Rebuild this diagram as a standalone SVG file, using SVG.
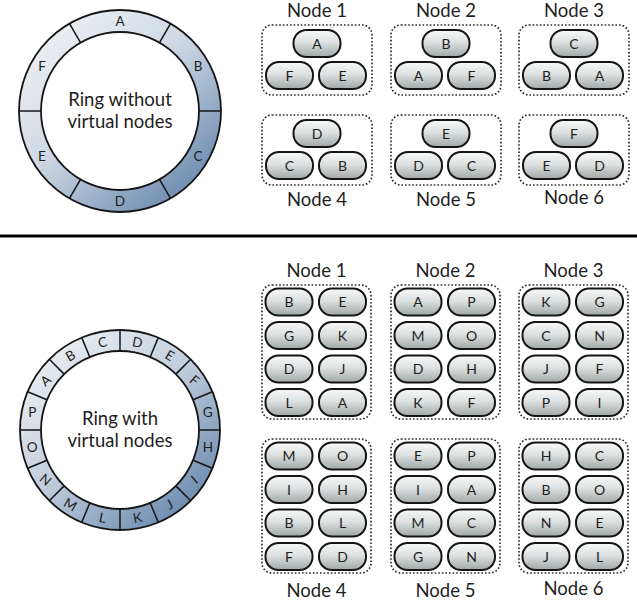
<svg xmlns="http://www.w3.org/2000/svg" width="637" height="600" viewBox="0 0 637 600">
<style>
text{font-family:Lato,"Open Sans","Liberation Sans",sans-serif;fill:#1e1e1e;text-anchor:middle}
.title{font-size:18.5px}
.pl{font-size:14px}
.seg{font-size:13.5px}
.center{font-size:18.5px}
.pill{fill:url(#pillg);stroke:#151515;stroke-width:2}
.box{fill:none;stroke:#2a2a2a;stroke-width:1.7;stroke-dasharray:1.6 2}
.div{stroke:#151515;stroke-width:1.5}
.ringo{stroke:#151515;stroke-width:1.8}
.ringi{fill:#fff;stroke:#151515;stroke-width:1.8}
</style>
<defs>
<linearGradient id="pillg" x1="0" y1="0" x2="0" y2="1">
<stop offset="0" stop-color="#f8f9f9"/>
<stop offset="0.45" stop-color="#dde1e1"/>
<stop offset="1" stop-color="#a0a8a7"/>
</linearGradient>
<linearGradient id="ring1g" gradientUnits="userSpaceOnUse" x1="40" y1="20" x2="200" y2="205">
<stop offset="0" stop-color="#f1f3f6"/>
<stop offset="0.45" stop-color="#cdd7e3"/>
<stop offset="1" stop-color="#5f81a9"/>
</linearGradient>
<linearGradient id="ring2g" gradientUnits="userSpaceOnUse" x1="40" y1="340" x2="200" y2="525">
<stop offset="0" stop-color="#eef1f5"/>
<stop offset="0.45" stop-color="#c3cfdd"/>
<stop offset="1" stop-color="#5f81a9"/>
</linearGradient>
</defs>

<g id="ring-top">
<circle class="ringo" cx="120" cy="111" r="101" fill="url(#ring1g)"/>
<circle class="ringi" cx="120" cy="111" r="79"/>
<line class="div" x1="80.5" y1="42.58" x2="69.5" y2="23.53"/>
<line class="div" x1="159.5" y1="42.58" x2="170.5" y2="23.53"/>
<line class="div" x1="199" y1="111" x2="221" y2="111"/>
<line class="div" x1="159.5" y1="179.42" x2="170.5" y2="198.47"/>
<line class="div" x1="80.5" y1="179.42" x2="69.5" y2="198.47"/>
<line class="div" x1="41" y1="111" x2="19" y2="111"/>
<text class="seg" x="120" y="25.8">A</text>
<text class="seg" x="198" y="70.8">B</text>
<text class="seg" x="198" y="160.8">C</text>
<text class="seg" x="120" y="205.8">D</text>
<text class="seg" x="42" y="160.8">E</text>
<text class="seg" x="42" y="70.8">F</text>
<text class="center" x="120" y="106">Ring without</text>
<text class="center" x="120" y="128">virtual nodes</text>
</g>

<line id="separator" x1="0" y1="236" x2="637" y2="236" stroke="#000" stroke-width="3"/>

<g id="ring-bottom">
<circle class="ringo" cx="120" cy="430" r="100" fill="url(#ring2g)"/>
<circle class="ringi" cx="120" cy="430" r="79"/>
<line class="div" x1="199" y1="430" x2="220" y2="430"/>
<line class="div" x1="192.99" y1="460.23" x2="212.39" y2="468.27"/>
<line class="div" x1="175.86" y1="485.86" x2="190.71" y2="500.71"/>
<line class="div" x1="150.23" y1="502.99" x2="158.27" y2="522.39"/>
<line class="div" x1="120" y1="509" x2="120" y2="530"/>
<line class="div" x1="89.77" y1="502.99" x2="81.73" y2="522.39"/>
<line class="div" x1="64.14" y1="485.86" x2="49.29" y2="500.71"/>
<line class="div" x1="47.01" y1="460.23" x2="27.61" y2="468.27"/>
<line class="div" x1="41" y1="430" x2="20" y2="430"/>
<line class="div" x1="47.01" y1="399.77" x2="27.61" y2="391.73"/>
<line class="div" x1="64.14" y1="374.14" x2="49.29" y2="359.29"/>
<line class="div" x1="89.77" y1="357.01" x2="81.73" y2="337.61"/>
<line class="div" x1="120" y1="351" x2="120" y2="330"/>
<line class="div" x1="150.23" y1="357.01" x2="158.27" y2="337.61"/>
<line class="div" x1="175.86" y1="374.14" x2="190.71" y2="359.29"/>
<line class="div" x1="192.99" y1="399.77" x2="212.39" y2="391.73"/>
<text class="seg" x="137.5" y="347" transform="rotate(11 137.5 342.2)">D</text>
<text class="seg" x="169.7" y="360.4" transform="rotate(30 169.7 355.6)">E</text>
<text class="seg" x="194.4" y="385.1" transform="rotate(40 194.4 380.3)">F</text>
<text class="seg" x="207.8" y="417.3">G</text>
<text class="seg" x="207.8" y="452.3">H</text>
<text class="seg" x="194.4" y="484.5" transform="rotate(-40 194.4 479.7)">I</text>
<text class="seg" x="169.7" y="509.2" transform="rotate(-30 169.7 504.4)">J</text>
<text class="seg" x="137.5" y="522.6" transform="rotate(-11 137.5 517.8)">K</text>
<text class="seg" x="102.5" y="522.6" transform="rotate(11 102.5 517.8)">L</text>
<text class="seg" x="70.3" y="509.2" transform="rotate(30 70.3 504.4)">M</text>
<text class="seg" x="45.6" y="484.5" transform="rotate(40 45.6 479.7)">N</text>
<text class="seg" x="32.2" y="452.3">O</text>
<text class="seg" x="32.2" y="417.3">P</text>
<text class="seg" x="45.6" y="385.1" transform="rotate(-40 45.6 380.3)">A</text>
<text class="seg" x="70.3" y="360.4" transform="rotate(-30 70.3 355.6)">B</text>
<text class="seg" x="102.5" y="347" transform="rotate(-11 102.5 342.2)">C</text>
<text class="center" x="120" y="425">Ring with</text>
<text class="center" x="120" y="447">virtual nodes</text>
</g>

<!-- Top: without virtual nodes -->
<g id="top-node1">
<text class="title" x="317" y="17">Node 1</text>
<rect class="box" x="262" y="25" width="110" height="70" rx="10"/>
<rect class="pill" x="293.5" y="30" width="47" height="27" rx="13"/><text class="pl" x="317" y="48.5">A</text>
<rect class="pill" x="266" y="62" width="47" height="27" rx="13"/><text class="pl" x="289.5" y="80.5">F</text>
<rect class="pill" x="319" y="62" width="47" height="27" rx="13"/><text class="pl" x="342.5" y="80.5">E</text>
</g>
<g id="top-node2">
<text class="title" x="446" y="17">Node 2</text>
<rect class="box" x="391" y="25" width="110" height="70" rx="10"/>
<rect class="pill" x="422.5" y="30" width="47" height="27" rx="13"/><text class="pl" x="446" y="48.5">B</text>
<rect class="pill" x="395" y="62" width="47" height="27" rx="13"/><text class="pl" x="418.5" y="80.5">A</text>
<rect class="pill" x="448" y="62" width="47" height="27" rx="13"/><text class="pl" x="471.5" y="80.5">F</text>
</g>
<g id="top-node3">
<text class="title" x="574" y="17">Node 3</text>
<rect class="box" x="519" y="25" width="110" height="70" rx="10"/>
<rect class="pill" x="550.5" y="30" width="47" height="27" rx="13"/><text class="pl" x="574" y="48.5">C</text>
<rect class="pill" x="523" y="62" width="47" height="27" rx="13"/><text class="pl" x="546.5" y="80.5">B</text>
<rect class="pill" x="576" y="62" width="47" height="27" rx="13"/><text class="pl" x="599.5" y="80.5">A</text>
</g>
<g id="top-node4">
<rect class="box" x="262" y="115" width="110" height="70" rx="10"/>
<rect class="pill" x="293.5" y="120" width="47" height="27" rx="13"/><text class="pl" x="317" y="138.5">D</text>
<rect class="pill" x="266" y="152" width="47" height="27" rx="13"/><text class="pl" x="289.5" y="170.5">C</text>
<rect class="pill" x="319" y="152" width="47" height="27" rx="13"/><text class="pl" x="342.5" y="170.5">B</text>
<text class="title" x="317" y="206">Node 4</text>
</g>
<g id="top-node5">
<rect class="box" x="391" y="115" width="110" height="70" rx="10"/>
<rect class="pill" x="422.5" y="120" width="47" height="27" rx="13"/><text class="pl" x="446" y="138.5">E</text>
<rect class="pill" x="395" y="152" width="47" height="27" rx="13"/><text class="pl" x="418.5" y="170.5">D</text>
<rect class="pill" x="448" y="152" width="47" height="27" rx="13"/><text class="pl" x="471.5" y="170.5">C</text>
<text class="title" x="446" y="206">Node 5</text>
</g>
<g id="top-node6">
<rect class="box" x="519" y="115" width="110" height="70" rx="10"/>
<rect class="pill" x="550.5" y="120" width="47" height="27" rx="13"/><text class="pl" x="574" y="138.5">F</text>
<rect class="pill" x="523" y="152" width="47" height="27" rx="13"/><text class="pl" x="546.5" y="170.5">E</text>
<rect class="pill" x="576" y="152" width="47" height="27" rx="13"/><text class="pl" x="599.5" y="170.5">D</text>
<text class="title" x="574" y="204">Node 6</text>
</g>

<!-- Bottom: with virtual nodes -->
<g id="vnode1">
<text class="title" x="316.5" y="277">Node 1</text>
<rect class="box" x="262" y="285" width="109" height="134" rx="10"/>
<rect class="pill" x="265.5" y="288.5" width="47" height="27" rx="13"/><text class="pl" x="289" y="307">B</text>
<rect class="pill" x="319" y="288.5" width="47" height="27" rx="13"/><text class="pl" x="342.5" y="307">E</text>
<rect class="pill" x="265.5" y="322" width="47" height="27" rx="13"/><text class="pl" x="289" y="340.5">G</text>
<rect class="pill" x="319" y="322" width="47" height="27" rx="13"/><text class="pl" x="342.5" y="340.5">K</text>
<rect class="pill" x="265.5" y="355.5" width="47" height="27" rx="13"/><text class="pl" x="289" y="374">D</text>
<rect class="pill" x="319" y="355.5" width="47" height="27" rx="13"/><text class="pl" x="342.5" y="374">J</text>
<rect class="pill" x="265.5" y="389" width="47" height="27" rx="13"/><text class="pl" x="289" y="407.5">L</text>
<rect class="pill" x="319" y="389" width="47" height="27" rx="13"/><text class="pl" x="342.5" y="407.5">A</text>
</g>
<g id="vnode2">
<text class="title" x="445.5" y="277">Node 2</text>
<rect class="box" x="391" y="285" width="109" height="134" rx="10"/>
<rect class="pill" x="394.5" y="288.5" width="47" height="27" rx="13"/><text class="pl" x="418" y="307">A</text>
<rect class="pill" x="448" y="288.5" width="47" height="27" rx="13"/><text class="pl" x="471.5" y="307">P</text>
<rect class="pill" x="394.5" y="322" width="47" height="27" rx="13"/><text class="pl" x="418" y="340.5">M</text>
<rect class="pill" x="448" y="322" width="47" height="27" rx="13"/><text class="pl" x="471.5" y="340.5">O</text>
<rect class="pill" x="394.5" y="355.5" width="47" height="27" rx="13"/><text class="pl" x="418" y="374">D</text>
<rect class="pill" x="448" y="355.5" width="47" height="27" rx="13"/><text class="pl" x="471.5" y="374">H</text>
<rect class="pill" x="394.5" y="389" width="47" height="27" rx="13"/><text class="pl" x="418" y="407.5">K</text>
<rect class="pill" x="448" y="389" width="47" height="27" rx="13"/><text class="pl" x="471.5" y="407.5">F</text>
</g>
<g id="vnode3">
<text class="title" x="573.5" y="277">Node 3</text>
<rect class="box" x="519" y="285" width="109" height="134" rx="10"/>
<rect class="pill" x="522.5" y="288.5" width="47" height="27" rx="13"/><text class="pl" x="546" y="307">K</text>
<rect class="pill" x="576" y="288.5" width="47" height="27" rx="13"/><text class="pl" x="599.5" y="307">G</text>
<rect class="pill" x="522.5" y="322" width="47" height="27" rx="13"/><text class="pl" x="546" y="340.5">C</text>
<rect class="pill" x="576" y="322" width="47" height="27" rx="13"/><text class="pl" x="599.5" y="340.5">N</text>
<rect class="pill" x="522.5" y="355.5" width="47" height="27" rx="13"/><text class="pl" x="546" y="374">J</text>
<rect class="pill" x="576" y="355.5" width="47" height="27" rx="13"/><text class="pl" x="599.5" y="374">F</text>
<rect class="pill" x="522.5" y="389" width="47" height="27" rx="13"/><text class="pl" x="546" y="407.5">P</text>
<rect class="pill" x="576" y="389" width="47" height="27" rx="13"/><text class="pl" x="599.5" y="407.5">I</text>
</g>
<g id="vnode4">
<rect class="box" x="262" y="439" width="109" height="134" rx="10"/>
<rect class="pill" x="265.5" y="442.5" width="47" height="27" rx="13"/><text class="pl" x="289" y="461">M</text>
<rect class="pill" x="319" y="442.5" width="47" height="27" rx="13"/><text class="pl" x="342.5" y="461">O</text>
<rect class="pill" x="265.5" y="476" width="47" height="27" rx="13"/><text class="pl" x="289" y="494.5">I</text>
<rect class="pill" x="319" y="476" width="47" height="27" rx="13"/><text class="pl" x="342.5" y="494.5">H</text>
<rect class="pill" x="265.5" y="509.5" width="47" height="27" rx="13"/><text class="pl" x="289" y="528">B</text>
<rect class="pill" x="319" y="509.5" width="47" height="27" rx="13"/><text class="pl" x="342.5" y="528">L</text>
<rect class="pill" x="265.5" y="543" width="47" height="27" rx="13"/><text class="pl" x="289" y="561.5">F</text>
<rect class="pill" x="319" y="543" width="47" height="27" rx="13"/><text class="pl" x="342.5" y="561.5">D</text>
<text class="title" x="316.5" y="597">Node 4</text>
</g>
<g id="vnode5">
<rect class="box" x="391" y="439" width="109" height="134" rx="10"/>
<rect class="pill" x="394.5" y="442.5" width="47" height="27" rx="13"/><text class="pl" x="418" y="461">E</text>
<rect class="pill" x="448" y="442.5" width="47" height="27" rx="13"/><text class="pl" x="471.5" y="461">P</text>
<rect class="pill" x="394.5" y="476" width="47" height="27" rx="13"/><text class="pl" x="418" y="494.5">I</text>
<rect class="pill" x="448" y="476" width="47" height="27" rx="13"/><text class="pl" x="471.5" y="494.5">A</text>
<rect class="pill" x="394.5" y="509.5" width="47" height="27" rx="13"/><text class="pl" x="418" y="528">M</text>
<rect class="pill" x="448" y="509.5" width="47" height="27" rx="13"/><text class="pl" x="471.5" y="528">C</text>
<rect class="pill" x="394.5" y="543" width="47" height="27" rx="13"/><text class="pl" x="418" y="561.5">G</text>
<rect class="pill" x="448" y="543" width="47" height="27" rx="13"/><text class="pl" x="471.5" y="561.5">N</text>
<text class="title" x="445.5" y="597">Node 5</text>
</g>
<g id="vnode6">
<rect class="box" x="519" y="439" width="109" height="134" rx="10"/>
<rect class="pill" x="522.5" y="442.5" width="47" height="27" rx="13"/><text class="pl" x="546" y="461">H</text>
<rect class="pill" x="576" y="442.5" width="47" height="27" rx="13"/><text class="pl" x="599.5" y="461">C</text>
<rect class="pill" x="522.5" y="476" width="47" height="27" rx="13"/><text class="pl" x="546" y="494.5">B</text>
<rect class="pill" x="576" y="476" width="47" height="27" rx="13"/><text class="pl" x="599.5" y="494.5">O</text>
<rect class="pill" x="522.5" y="509.5" width="47" height="27" rx="13"/><text class="pl" x="546" y="528">N</text>
<rect class="pill" x="576" y="509.5" width="47" height="27" rx="13"/><text class="pl" x="599.5" y="528">E</text>
<rect class="pill" x="522.5" y="543" width="47" height="27" rx="13"/><text class="pl" x="546" y="561.5">J</text>
<rect class="pill" x="576" y="543" width="47" height="27" rx="13"/><text class="pl" x="599.5" y="561.5">L</text>
<text class="title" x="573.5" y="595">Node 6</text>
</g>

<g id="connectors"></g>
</svg>
